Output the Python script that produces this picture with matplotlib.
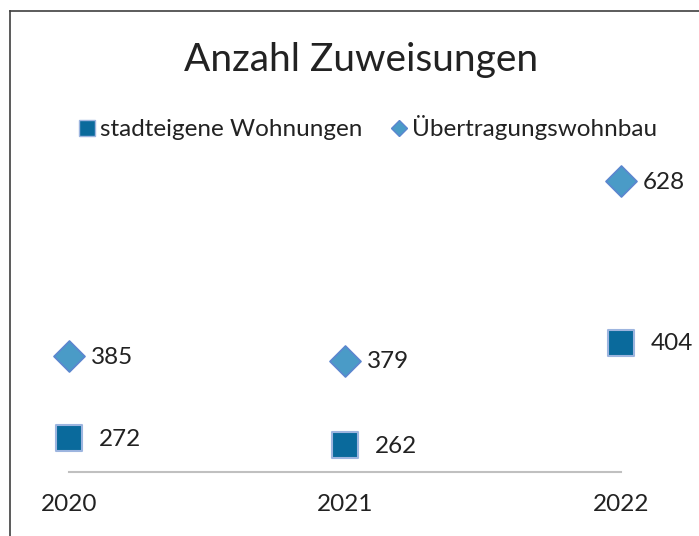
import matplotlib.pyplot as plt
from matplotlib.lines import Line2D

years = ["2020", "2021", "2022"]
stadteigen = [272, 262, 404]
uebertragung = [385, 379, 628]

sq_color = "#0a6a9c"
sq_edge = "#9db5df"
dia_color = "#4a9bc7"
dia_edge = "#5b86cf"
txt = "#222222"

plt.rcParams['font.family'] = ['Lato', 'DejaVu Sans']

fig = plt.figure(figsize=(6.99, 5.36), dpi=100)
ax = fig.add_axes([69 / 699, 64 / 536, 552 / 699, 312 / 536])

x = list(range(len(years)))
ax.scatter(x, uebertragung, marker="D", s=250, color=dia_color,
           edgecolor=dia_edge, linewidth=1.2, zorder=3, clip_on=False)
ax.scatter(x, stadteigen, marker="s", s=360, color=sq_color,
           edgecolor=sq_edge, linewidth=1.5, zorder=3, clip_on=False)

for i in x:
    ax.annotate(str(uebertragung[i]), (i, uebertragung[i]), xytext=(16, -1),
                textcoords="offset points", ha="left", va="center",
                fontsize=17.5, color=txt)
    ax.annotate(str(stadteigen[i]), (i, stadteigen[i]), xytext=(21.5, -1),
                textcoords="offset points", ha="left", va="center",
                fontsize=17.5, color=txt)

ax.set_xlim(0, 2)
ax.set_ylim(224.6, 657)
ax.set_xticks(x)
ax.set_xticklabels(years, fontsize=17.5, color=txt)
ax.tick_params(axis="x", length=0, pad=16)
ax.set_yticks([])
for side in ["left", "right", "top"]:
    ax.spines[side].set_visible(False)
ax.spines["bottom"].set_color("#c0c0c0")
ax.spines["bottom"].set_linewidth(1.5)

fig.text(361 / 699, 1 - 60 / 536, "Anzahl Zuweisungen", ha="center",
         va="center", fontsize=28, color=txt)

handles = [
    Line2D([], [], marker="s", linestyle="none", markersize=11,
           markerfacecolor=sq_color, markeredgecolor=sq_edge),
    Line2D([], [], marker="D", linestyle="none", markersize=8,
           markerfacecolor=dia_color, markeredgecolor=dia_edge),
]
fig.legend(handles, ["stadteigene Wohnungen", "Übertragungswohnbau"],
           loc="center", bbox_to_anchor=(366 / 699, 1 - 128 / 536), ncol=2,
           frameon=False, fontsize=17.5, handletextpad=0.05, columnspacing=1.0,
           handlelength=1.0, labelcolor=txt)

# Rahmen oben und links
fig.add_artist(Line2D([10 / 699, 10 / 699], [0, 1 - 11 / 536],
                      transform=fig.transFigure, color="#404040", lw=1.2))
fig.add_artist(Line2D([10 / 699, 1], [1 - 11 / 536, 1 - 11 / 536],
                      transform=fig.transFigure, color="#404040", lw=1.2))

fig.savefig("out.png", dpi=100)
